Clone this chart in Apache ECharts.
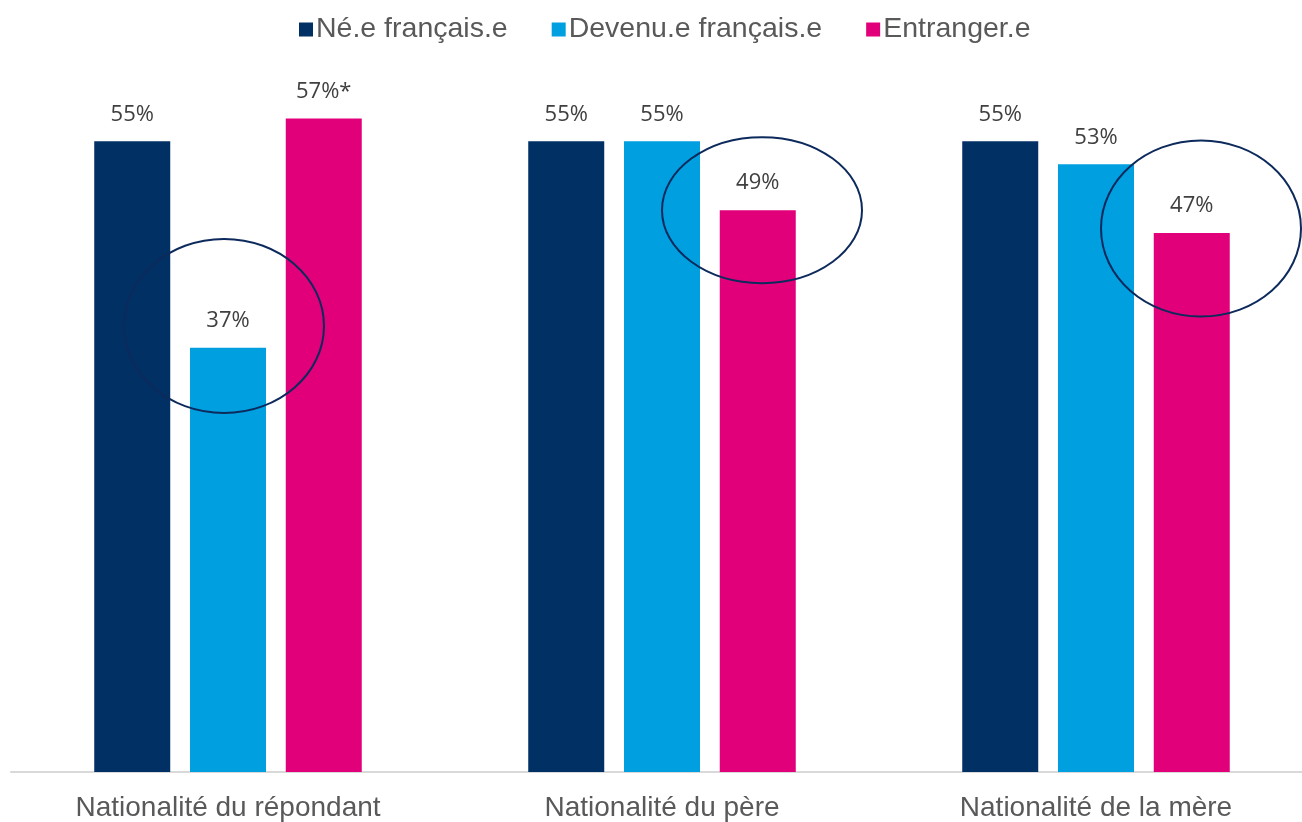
<!DOCTYPE html>
<html>
<head>
<meta charset="utf-8">
<script src="https://cdn.jsdelivr.net/npm/echarts@6/dist/echarts.min.js"></script>
<style>
  html, body { margin: 0; padding: 0; background: #fff; overflow: hidden; }
  /* a little wider than the window so the last category can overflow the right edge like the original */
  #chart { width: 1324px; height: 822px; }
</style>
</head>
<body>
<div id="chart"></div>
<script>
const categories = ['Nationalité du répondant', 'Nationalité du père', 'Nationalité de la mère']
const seriesNames = ['Né.e français.e', 'Devenu.e français.e', 'Entranger.e']
const neFrancais = [55, 55, 55]
const devenuFrancais = [37, 55, 53]
const etranger = [57, 49, 47]
// labels shown above the bars (the first foreign-born bar carries an asterisk)
const etrangerLabels = ['57%*', '49%', '47%']
// circled groups: category index, horizontal shift in px, centre value, radii in px
const circles = [
  { cat: 0, dx: -4, value: 38.9, rx: 100, ry: 87 },
  { cat: 1, dx: 100, value: 49, rx: 100, ry: 73 },
  { cat: 2, dx: 105, value: 47.4, rx: 100, ry: 88 }
]

const colors = ['#003064', '#009fe0', '#e2007a']

const chart = echarts.init(document.getElementById('chart'))

const labelStyle = {
  show: true,
  position: 'top',
  distance: 16,
  color: '#404040',
  fontFamily: 'Open Sans',
  fontSize: 22
}

const option = {
  animation: false,
  color: colors,
  legend: {
    left: 294,
    top: 10,
    itemWidth: 14,
    itemHeight: 14,
    itemGap: 44,
    icon: 'rect',
    textStyle: { color: '#595959', fontFamily: 'Liberation Sans', fontSize: 28.5, padding: [0, 0, 0, -2] },
    data: seriesNames
  },
  grid: { left: 11, width: 1302, top: 84, bottom: 48 },
  xAxis: {
    type: 'category',
    data: categories,
    axisLine: { lineStyle: { color: '#d9d9d9', width: 2 } },
    axisTick: { show: false },
    axisLabel: { color: '#595959', fontFamily: 'Liberation Sans', fontSize: 28, margin: 22 }
  },
  yAxis: {
    type: 'value',
    min: 0,
    max: 60,
    show: false,
    splitLine: { show: false }
  },
  series: [
    {
      name: seriesNames[0],
      type: 'bar',
      barWidth: 76,
      barGap: '26%',
      data: neFrancais,
      label: Object.assign({}, labelStyle, { formatter: '{c}%' })
    },
    {
      name: seriesNames[1],
      type: 'bar',
      barWidth: 76,
      barGap: '26%',
      data: devenuFrancais,
      label: Object.assign({}, labelStyle, { formatter: '{c}%' })
    },
    {
      name: seriesNames[2],
      type: 'bar',
      barWidth: 76,
      barGap: '26%',
      data: etranger,
      label: Object.assign({}, labelStyle, {
        formatter: function (p) { return etrangerLabels[p.dataIndex] }
      })
    }
  ]
}

chart.setOption(option)

// ellipses drawn on top of the bars, positioned through the axes
const graphics = circles.map(function (c) {
  const px = chart.convertToPixel({ xAxisIndex: 0 }, c.cat)
  const py = chart.convertToPixel({ yAxisIndex: 0 }, c.value)
  return {
    type: 'ellipse',
    z: 100,
    shape: { cx: px + c.dx, cy: py, rx: c.rx, ry: c.ry },
    style: { fill: 'none', stroke: '#0d2a5c', lineWidth: 2 }
  }
})
chart.setOption({ graphic: graphics })
</script>
</body>
</html>
